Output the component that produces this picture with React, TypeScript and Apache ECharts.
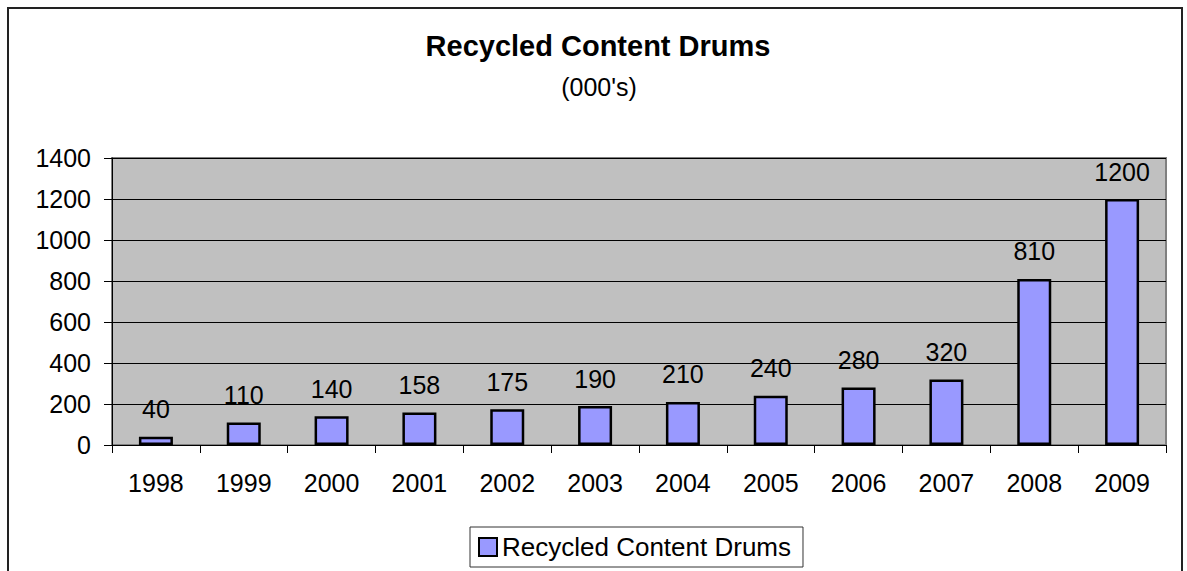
import React, { useEffect, useRef } from "react";
import * as echarts from "echarts";

// Yearly totals, in thousands of drums
const years = ["1998", "1999", "2000", "2001", "2002", "2003", "2004", "2005", "2006", "2007", "2008", "2009"];
const drums = [40, 110, 140, 158, 175, 190, 210, 240, 280, 320, 810, 1200];
const yTicks = { min: 0, max: 1400, interval: 200 };

const seriesName = "Recycled Content Drums";
const chartTitle = "Recycled Content Drums";
const chartSubtitle = "(000's)";

const FONT = 'Arial, "Liberation Sans", sans-serif';

export default function App() {
  const ref = useRef<HTMLDivElement>(null);

  useEffect(() => {
    if (!ref.current) return;
    const chart = echarts.init(ref.current, undefined, { renderer: "svg" });
    chart.setOption({
      animation: false,
      backgroundColor: "#ffffff",
      textStyle: { fontFamily: FONT },
      graphic: [
        {
          type: "rect",
          shape: { x: 8, y: 8, width: 1174, height: 600 },
          style: { fill: "none", stroke: "#222", lineWidth: 2 },
          silent: true,
        },
        {
          type: "text",
          x: 598,
          y: 46,
          style: {
            text: chartTitle,
            fontFamily: FONT,
            fontSize: 29,
            fontWeight: "bold",
            fill: "#000",
            textAlign: "center",
            textVerticalAlign: "middle",
          },
        },
        {
          type: "text",
          x: 599,
          y: 87,
          style: {
            text: chartSubtitle,
            fontFamily: FONT,
            fontSize: 25,
            fill: "#000",
            textAlign: "center",
            textVerticalAlign: "middle",
          },
        },
      ],
      legend: {
        left: 470,
        top: 527,
        orient: "horizontal",
        icon: "rect",
        itemWidth: 18,
        itemHeight: 18,
        padding: [7, 12, 7, 8],
        borderColor: "#333",
        borderWidth: 1,
        backgroundColor: "#fff",
        textStyle: { fontFamily: FONT, fontSize: 26, color: "#000" },
        data: [seriesName],
      },
      grid: {
        left: 112,
        top: 158,
        right: 21,
        bottom: 126,
        show: true,
        backgroundColor: "#C0C0C0",
        borderColor: "#808080",
        borderWidth: 2,
        containLabel: false,
      },
      xAxis: {
        type: "category",
        data: years,
        axisLine: { show: true, lineStyle: { color: "#000", width: 1 } },
        axisTick: { show: true, alignWithLabel: false, length: 8, lineStyle: { color: "#000" } },
        axisLabel: { margin: 25, fontSize: 25, color: "#000", fontFamily: FONT, interval: 0 },
        splitLine: { show: false },
      },
      yAxis: {
        type: "value",
        min: yTicks.min,
        max: yTicks.max,
        interval: yTicks.interval,
        axisLine: { show: true, lineStyle: { color: "#000", width: 1 } },
        axisTick: { show: true, length: 8, lineStyle: { color: "#000" } },
        axisLabel: {
          margin: 21,
          fontSize: 25,
          color: "#000",
          fontFamily: FONT,
          formatter: (v: number) => String(v),
        },
        splitLine: { show: true, lineStyle: { color: "#000", width: 1 } },
      },
      series: [
        {
          name: seriesName,
          type: "bar",
          data: drums,
          barWidth: 34,
          itemStyle: { color: "#9999FF", borderColor: "#000", borderWidth: 2.5 },
          label: {
            show: true,
            position: "top",
            distance: 15,
            fontSize: 25,
            color: "#000",
            fontFamily: FONT,
          },
        },
      ],
    });
    return () => chart.dispose();
  }, []);

  return (
    <div
      ref={ref}
      style={{ position: "absolute", left: 0, top: 0, width: 1187, height: 571 }}
    />
  );
}
